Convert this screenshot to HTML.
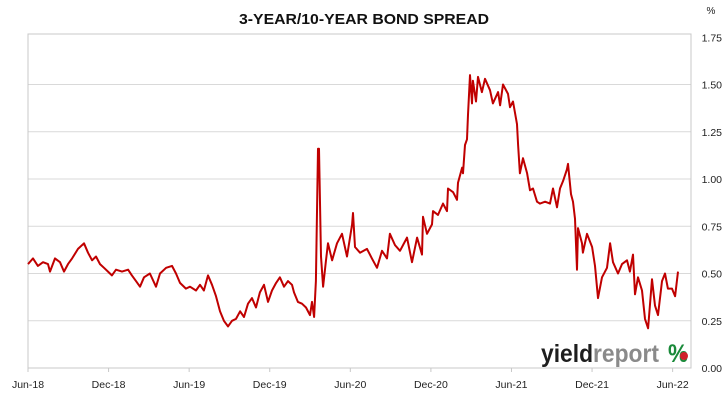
<!DOCTYPE html>
<html><head><meta charset="utf-8"><style>
body{margin:0;background:#fff;width:728px;height:400px;overflow:hidden}
svg{display:block;font-family:"Liberation Sans",sans-serif}
</style></head><body>
<svg id="chart" width="728" height="400">
<text x="364" y="24" text-anchor="middle" font-size="15" font-weight="bold" fill="#111" textLength="250" lengthAdjust="spacingAndGlyphs">3-YEAR/10-YEAR BOND SPREAD</text>
<text x="711" y="14" text-anchor="middle" font-size="10" fill="#222">%</text>
<g id="grid"></g>
<rect x="28" y="34" width="663" height="334" fill="none" stroke="#c8c8c8" stroke-width="1"/>
<g id="yaxis"></g>
<g id="xaxis"></g>
<g>
<text x="541" y="362" font-size="25" font-weight="bold" textLength="118" lengthAdjust="spacingAndGlyphs"><tspan fill="#1e1e1e">yield</tspan><tspan fill="#8a8a8a">report</tspan></text>
<text x="668" y="362" font-size="25" font-weight="bold" textLength="20" lengthAdjust="spacingAndGlyphs"><tspan fill="#1a8a3a">%</tspan></text>
<circle cx="684" cy="356" r="4" fill="#d0202a"/>
</g>
<path id="line" fill="none" stroke="#c00000" stroke-width="2" stroke-linejoin="round"/>
</svg>
<script>
// months since Jun-2018
const months=[0,.37,.74,1.12,1.49,1.64,2.01,2.38,2.68,2.98,3.28,3.72,4.17,4.47,4.77,5.06,5.36,5.66,5.96,6.25,6.55,7.0,7.45,7.74,8.04,8.34,8.64,9.08,9.53,9.83,10.28,10.72,11.02,11.32,11.76,12.06,12.51,12.81,13.1,13.4,13.7,14.0,14.3,14.59,14.89,15.19,15.49,15.79,16.08,16.38,16.68,16.98,17.27,17.57,17.87,18.17,18.47,18.76,19.06,19.36,19.66,19.81,20.1,20.4,20.7,21.0,21.15,21.3,21.44,21.59,21.67,21.82,21.97,22.19,22.34,22.64,23.01,23.38,23.75,24.13,24.2,24.35,24.72,25.24,25.61,25.99,26.36,26.73,26.95,27.33,27.7,28.22,28.59,28.97,29.34,29.41,29.71,30.08,30.16,30.53,30.9,31.2,31.27,31.65,31.94,32.02,32.32,32.39,32.54,32.69,32.76,32.91,33.06,33.13,33.36,33.51,33.8,34.03,34.4,34.62,35.0,35.15,35.37,35.74,35.89,36.11,36.41,36.49,36.63,36.86,37.16,37.38,37.6,37.9,38.12,38.5,38.87,39.09,39.39,39.61,39.84,40.13,40.21,40.43,40.58,40.73,40.88,40.95,41.25,41.32,41.62,42.0,42.22,42.44,42.74,43.11,43.34,43.56,43.93,44.23,44.6,44.82,45.05,45.2,45.42,45.72,45.94,46.17,46.46,46.69,46.91,47.21,47.43,47.65,47.95,48.18,48.4];
const spread=[.55,.58,.54,.56,.55,.51,.58,.56,.51,.55,.58,.63,.66,.61,.57,.59,.55,.53,.51,.49,.52,.51,.52,.49,.46,.43,.48,.50,.43,.50,.53,.54,.50,.45,.42,.43,.41,.44,.41,.49,.44,.38,.30,.25,.22,.25,.26,.30,.27,.34,.37,.32,.40,.44,.35,.41,.45,.48,.43,.46,.44,.40,.35,.34,.32,.28,.35,.27,.46,1.16,1.16,.59,.43,.57,.66,.57,.66,.71,.59,.76,.82,.64,.61,.63,.58,.53,.62,.58,.71,.65,.62,.69,.56,.69,.60,.80,.71,.76,.83,.81,.87,.83,.95,.93,.89,.98,1.06,1.03,1.18,1.21,1.34,1.55,1.40,1.52,1.41,1.54,1.46,1.53,1.47,1.40,1.46,1.39,1.50,1.45,1.38,1.41,1.29,1.18,1.03,1.11,1.03,.94,.95,.88,.87,.88,.87,.95,.85,.95,.99,1.05,1.08,.92,.88,.79,.52,.74,.66,.61,.71,.64,.54,.37,.48,.53,.66,.56,.50,.55,.57,.51,.60,.39,.48,.41,.26,.21,.47,.33,.28,.46,.50,.42,.42,.38,.51];
const yTicks=[0,0.25,0.5,0.75,1.0,1.25,1.5,1.75];
const xTickLabels=["Jun-18","Dec-18","Jun-19","Dec-19","Jun-20","Dec-20","Jun-21","Dec-21","Jun-22"];
const X0=28,PXM=13.43,Y0=368,PXV=189;
const xs=m=>X0+m*PXM, ys=v=>Y0-v*PXV;
const NS="http://www.w3.org/2000/svg";
const grid=document.getElementById('grid'),ya=document.getElementById('yaxis'),xa=document.getElementById('xaxis');
yTicks.forEach(v=>{
  if(v>0&&v<1.75){const l=document.createElementNS(NS,'line');
  
  
  l.setAttribute('x1',28);l.setAttribute('x2',691);l.setAttribute('y1',ys(v));l.setAttribute('y2',ys(v));
  l.setAttribute('stroke','#d9d9d9');grid.appendChild(l);}
  const t=document.createElementNS(NS,'text');
  
  
  t.setAttribute('x',722);t.setAttribute('y',ys(v)+4);t.setAttribute('text-anchor','end');
  t.setAttribute('font-size','10.5');t.setAttribute('fill','#222');t.textContent=v.toFixed(2);ya.appendChild(t);
});
xTickLabels.forEach((s,i)=>{
  const x=xs(i*6);
  const l=document.createElementNS(NS,'line');
  
  
  l.setAttribute('x1',x);l.setAttribute('x2',x);l.setAttribute('y1',368);l.setAttribute('y2',372);l.setAttribute('stroke','#c8c8c8');xa.appendChild(l);
  const t=document.createElementNS(NS,'text');
  
  
  t.setAttribute('x',x);t.setAttribute('y',388);t.setAttribute('text-anchor','middle');
  t.setAttribute('font-size','10.5');t.setAttribute('fill','#222');t.textContent=s;xa.appendChild(t);
});
document.getElementById('line').setAttribute('d',months.map((m,i)=>(i?'L':'M')+xs(m).toFixed(1)+','+ys(spread[i]).toFixed(1)).join(''));
</script>
</body></html>
